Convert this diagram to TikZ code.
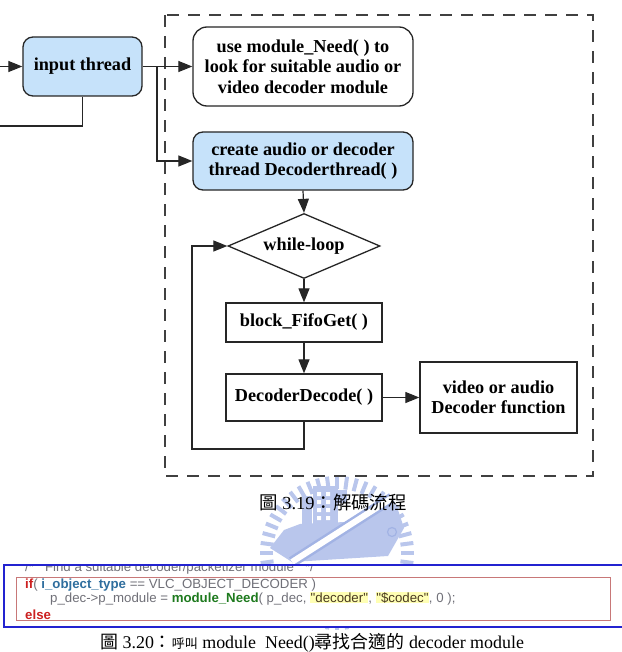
\documentclass[tikz,border=0pt]{standalone}
\usepackage{fontspec}
\setmainfont{Liberation Serif}
\newfontfamily\cjk{Noto Sans CJK TC}
\newfontfamily\codefont{Liberation Sans}
\usetikzlibrary{shapes.geometric,arrows.meta}
\definecolor{boxblue}{HTML}{C6E2FA}
\definecolor{linegray}{HTML}{262626}
\definecolor{dashgray}{HTML}{404040}
\definecolor{logoblue}{HTML}{B9C6EC}
\definecolor{logodark}{HTML}{A2B3E4}
\definecolor{codeblue}{HTML}{2323D0}
\definecolor{codered}{HTML}{C87878}
\definecolor{cgray}{HTML}{707078}
\definecolor{cred}{HTML}{CC2020}
\definecolor{cblue}{HTML}{2F6E9E}
\definecolor{cgreen}{HTML}{1E7A1E}
\definecolor{cstr}{HTML}{4A3A20}
\definecolor{hlyellow}{HTML}{FFFFB4}
\newcommand\boxfont{\fontsize{18.3}{20.5}\selectfont\bfseries}
\newcommand\capfont{\fontsize{18.5}{20}\selectfont}
\newcommand\capfontb{\fontsize{18}{20}\selectfont}
\newcommand\cfont{\codefont\fontsize{13.3}{14}\selectfont}
\newcommand\hlt[1]{{\setlength\fboxsep{0.5pt}\colorbox{hlyellow}{\color{cstr}#1}}}
\begin{document}
\begin{tikzpicture}[x=1bp,y=-1bp,
  flowline/.style={draw=linegray, line width=1.2bp},
  arr/.style={flowline, -{Triangle[length=14bp,width=11bp]}},
  rbox/.style={draw=linegray, line width=1.3bp, rounded corners=10bp, align=center, font=\boxfont, inner sep=0pt},
  sbox/.style={draw=linegray, line width=1.3bp, fill=white, align=center, font=\boxfont, inner sep=0pt},
  dia/.style={draw=linegray, line width=1.3bp, shape=diamond, aspect=2.34, inner sep=0pt, minimum width=152bp, minimum height=65bp, fill=white, font=\boxfont},
  dashbox/.style={draw=dashgray, line width=1.3bp, dash pattern=on 12bp off 9bp},
  codet/.style={inner sep=0pt, anchor=base west, font=\cfont},
  captext/.style={inner sep=0pt, font=\capfont}
]
\useasboundingbox (0,0) rectangle (622,652);

% watermark logo
\begin{scope}
  \foreach \a in {0,7.5,...,352.5}
    \draw[logoblue, line width=4bp, shift={(337,553)}] (\a:64) -- (\a:77);
  \fill[logoblue] (302,496) rectangle (312,524);
  \fill[logoblue] (313,486) rectangle (338,524);
  \fill[logoblue] (338,490) rectangle (347,503);
  \foreach \yy in {492,500,508,516}
    \fill[white] (317,\yy) rectangle (321,\yy+4) (326,\yy) rectangle (330,\yy+4);
  \fill[logoblue] (270,548) -- (284,530) -- (300,524) -- (345,522) -- (368,512) -- (396,504) -- (404,528) -- (388,556) -- (292,562) -- cycle;
  \draw[logodark, line width=11bp] (292,562) -- (392,498);
  \draw[white, line width=6bp] (292,562) -- (392,498);
  \draw[logodark, line width=1.2bp] (392,532) circle (4.5);
\end{scope}

% dashed frame
\draw[dashbox] (165,15) rectangle (593,476);

% nodes
\node[rbox, fill=boxblue, minimum width=119bp, minimum height=59bp] (inp) at (82.5,66.5) {input thread};
\node[rbox, fill=white, rounded corners=14bp, minimum width=220bp, minimum height=79bp] (need) at (303,66.5) {use module\_Need( ) to\\look for suitable audio or\\video decoder module};
\node[rbox, fill=boxblue, minimum width=220bp, minimum height=58bp] (create) at (303,161) {create audio or decoder\\thread Decoderthread( )};
\node[dia] (loop) at (304,246) {while-loop};
\node[sbox, minimum width=156bp, minimum height=39bp] (fifo) at (304,322.5) {block\_FifoGet( )};
\node[sbox, minimum width=156bp, minimum height=47bp] (dd) at (304,397.5) {DecoderDecode( )};
\node[sbox, minimum width=157bp, minimum height=71bp] (vid) at (498.5,397.5) {video or audio\\Decoder function};

% connectors
\coordinate (inL) at (0,66.5);
\coordinate (fbL) at (0,126);
\coordinate (br) at (157,66.5);
\coordinate (lb) at (192,449);
\draw[arr] (inL) -- (inp.west);
\draw[flowline] (inp.south) -- (inp.south |- fbL) -- (fbL);
\draw[arr] (inp.east) -- (need.west);
\draw[arr] (br) |- (create.west);
\draw[arr] (create.south) -- (loop.north);
\draw[arr] (loop.south) -- (fifo.north);
\draw[arr] (fifo.south) -- (dd.north);
\draw[arr] (dd.east) -- (vid.west);
\draw[arr] (dd.south) -- (dd.south |- lb) -- (lb) |- (loop.west);

% caption 3.19
\node[captext] (cap1) at (333,502) {{\cjk 圖}\ 3.19{\cjk ：解碼流程}};

% code snippet
\fill[white] (4,565) rectangle (630,627);
\draw[codered, line width=0.9bp] (16,577) rectangle (610,620);
\begin{scope}
  \clip (4,566) rectangle (630,627);
  \node[codet] (c1) at (25,571.5) {\color{cgray}/*\ \ \ Find a suitable decoder/packetizer module\ \ \ */};
\end{scope}
\node[codet] (c2) at (25,588) {{\color{cred}\bfseries if}{\color{cgray}(} {\color{cblue}\bfseries i\_object\_type} {\color{cgray}== VLC\_OBJECT\_DECODER )}};
\node[codet] (c3) at (50,602) {{\color{cgray}p\_dec->p\_module = }{\color{cgreen}\bfseries module\_Need}{\color{cgray}( p\_dec, }\hlt{"decoder"}{\color{cgray}, }\hlt{"\$codec"}{\color{cgray}, 0 );}};
\node[codet] (c4) at (25,619) {\color{cred}\bfseries else};
\draw[codeblue, line width=2bp] (630,565) -- (4,565) -- (4,627) -- (630,627);

% caption 3.20
\node[captext, font=\capfontb, anchor=base west] (cap2) at (100,648) {{\cjk 圖}\ 3.20{\cjk ：}{\cjk\fontsize{13}{13}\selectfont 呼叫}\ module\ \ Need(){\cjk 尋找合適的}\ decoder module};
\end{tikzpicture}
\end{document}
